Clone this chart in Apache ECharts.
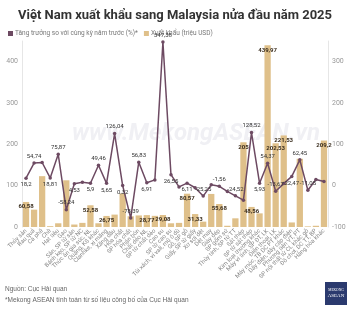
<!DOCTYPE html>
<html><head><meta charset="utf-8">
<script src="https://cdn.jsdelivr.net/npm/echarts@6/dist/echarts.min.js"></script>
<style>html,body{margin:0;padding:0;background:#fff}#c{width:350px;height:322px}</style>
</head><body><div id="c"></div>
<script>
const titleText = 'Việt Nam xuất khẩu sang Malaysia nửa đầu năm 2025';
const seriesNames = ['Tăng trưởng so với cùng kỳ năm trước (%)*', 'Xuất khẩu (triệu USD)'];
const categories = [
  'Thủy sản','Rau quả','Cà phê','Chè','Hạt tiêu','Gạo','Sắn, SP từ sắn','Bánh kẹo, SP từ NC',
  'Thức ăn gia súc, NL','Quặng, KS khác','Clanhke, xi măng','Xăng dầu','Hóa chất','SP hóa chất',
  'Phân bón','Chất dẻo NL','SP từ chất dẻo','Cao su','SP từ cao su','Túi xách, ví vali, mũ ô dù',
  'Gỗ, SP gỗ','Giấy, SP từ giấy','Xơ sợi dệt','Dệt may','Giày dép','SP gốm sứ','Thủy tinh, SP từ TT',
  'Sắt thép','SP từ sắt thép','Kim loại thường khác','Máy vi tính, SP ĐT, LK','Điện thoại, LK',
  'Máy móc, TB DC PT khác','Dây điện, dây cáp điện','Phương tiện VT, PT','SP nội thất từ CL khác gỗ',
  'Đồ chơi, DC TT, BP','Hàng hóa khác'
];
const exportValues = [
  60.58, 42, 123, 2, 9, 113, 6, 10,
  52.58, 9, 26.75, 30, 81, 26,
  28, 28.77, 27, 29.08, 9, 10,
  80.57, 31.33, 13, 80, 55.68, 3, 21,
  205, 48.56, 33, 439.97, 202.53,
  221.53, 11, 165, 1.5,
  3, 209.2
];
const growthValues = [
  18.2, 54.74, 56, 18.81, 75.87, -58.24, 4.53, 8,
  5.9, 49.46, 5.65, 126.04, 0.32, -78.39,
  56.83, 6.91, 14, 347.38, 26.55, -3,
  6.11, -5, -25.25, 2, -1.56, -14, -24.52,
  -35, 128.52, 5.93, 54.37, -13.67,
  5, 22.47, 62.45, -11.05,
  15, 10
];
const growthLabelShown = [0,1,3,4,5,6,8,9,10,11,12,13,14,15,17,18,20,22,24,26,28,29,30,31,33,34,35];
const exportLabelShown = [0,8,10,15,17,20,21,24,27,28,30,31,32,37];
const leftAxisRange = [0, 450];
const rightAxisRange = [-100, 350];

const fmt = v => String(v).replace('.', ',');
const C_LINE = '#6d4a62', C_BAR = '#dfc08a';

const lineData = growthValues.map((v, i) => {
  const show = growthLabelShown.includes(i);
  const top = v > 40 || v < 0;
  return { value: v, label: { show, position: top ? 'top' : 'bottom' } };
});
const barData = exportValues.map((v, i) => ({
  value: v, label: { show: exportLabelShown.includes(i) }
}));

const chart = echarts.init(document.getElementById('c'), null, { renderer: 'canvas' });
chart.setOption({
  animation: false,
  textStyle: { fontFamily: 'Roboto, "Noto Sans", sans-serif' },
  title: {
    text: titleText, left: 'center', top: 4,
    textStyle: { fontSize: 13, fontWeight: 'bold', color: '#333', fontFamily: 'Roboto, sans-serif' }
  },
  legend: {
    left: 3, top: 25, itemWidth: 5, itemHeight: 5, itemGap: 6, icon: 'rect',
    data: seriesNames,
    textStyle: { fontSize: 6.5, color: '#777', padding: [0, 0, 0, -3] }
  },
  grid: { left: 22, right: 22, top: 41, bottom: 95, containLabel: false },
  xAxis: {
    type: 'category', data: categories,
    axisLine: { show: false }, axisTick: { show: false },
    axisLabel: { interval: 0, rotate: 45, fontSize: 6, color: '#888', margin: 3 }
  },
  yAxis: [
    { type: 'value', min: leftAxisRange[0], max: leftAxisRange[1], interval: 100, position: 'left',
      axisLine: { show: true, lineStyle: { color: '#e6e6e6' } }, axisTick: { show: false },
      splitLine: { show: false },
      axisLabel: { fontSize: 7, color: '#999', margin: 4, showMaxLabel: false } },
    { type: 'value', min: rightAxisRange[0], max: rightAxisRange[1], interval: 100, position: 'right',
      axisLine: { show: true, lineStyle: { color: '#e6e6e6' } }, axisTick: { show: false },
      splitLine: { show: false },
      axisLabel: { fontSize: 7, color: '#999', margin: 4, showMaxLabel: false } }
  ],
  graphic: [
    { type: 'text', left: 72, top: 122, z: 0, silent: true,
      style: { text: 'www.MekongASEAN.vn', fontSize: 24, fontWeight: 'bold', fontStyle: 'italic',
               fill: '#f0f0f4', fontFamily: 'Roboto, sans-serif' } },
    { type: 'text', left: 5, top: 286,
      style: { text: 'Nguồn: Cục Hải quan', fontSize: 6.5, fill: '#666' } },
    { type: 'text', left: 5, top: 297,
      style: { text: '*Mekong ASEAN tính toán từ số liệu công bố của Cục Hải quan', fontSize: 6.5, fill: '#666' } },
    { type: 'group', left: 325, top: 282, children: [
      { type: 'rect', shape: { x: 0, y: 0, width: 22, height: 23 }, style: { fill: '#2b3a6e' } },
      { type: 'text', x: 11, y: 8, style: { text: 'MEKONG', fontSize: 3.5, fill: '#fff', align: 'center', verticalAlign: 'middle', fontFamily: 'serif' } },
      { type: 'text', x: 11, y: 14, style: { text: 'ASEAN', fontSize: 5, fill: '#fff', align: 'center', verticalAlign: 'middle', fontFamily: 'serif' } }
    ]}
  ],
  series: [
    { name: seriesNames[0], type: 'line', yAxisIndex: 1, data: lineData, z: 4,
      symbol: 'circle', symbolSize: 3.5, itemStyle: { color: C_LINE },
      lineStyle: { color: C_LINE, width: 1.5 },
      label: { fontSize: 6, color: '#333', distance: 2, formatter: p => fmt(p.value) } },
    { name: seriesNames[1], type: 'bar', yAxisIndex: 0, data: barData, barWidth: '78%', z: 2,
      itemStyle: { color: C_BAR },
      label: { position: 'insideTop', distance: 2, fontSize: 6, fontWeight: 'bold', color: '#3b2e1e',
               formatter: p => fmt(p.value) } }
  ]
});
</script></body></html>
